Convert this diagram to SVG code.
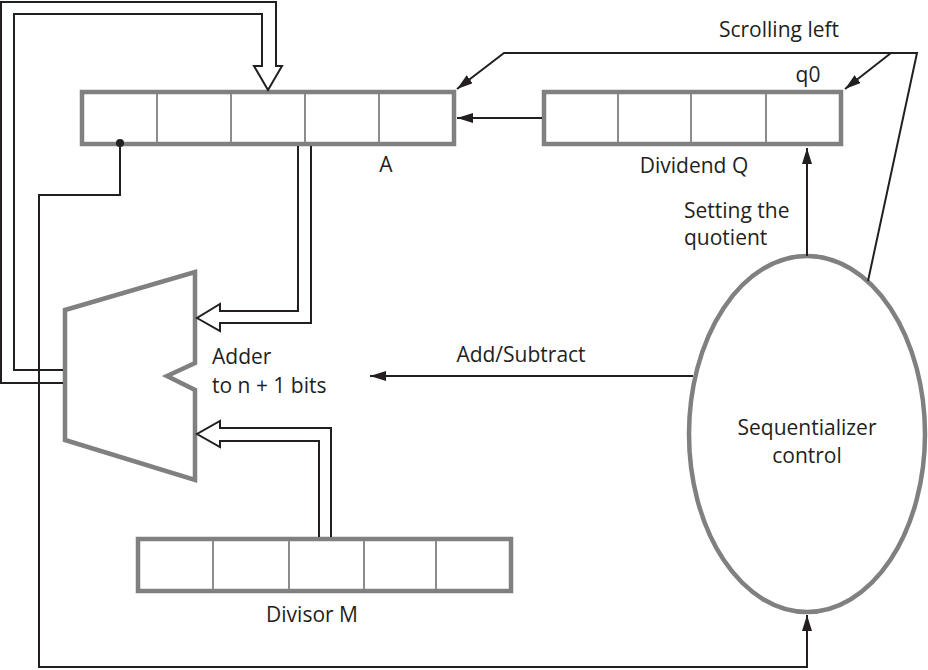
<svg xmlns="http://www.w3.org/2000/svg" width="928" height="670" viewBox="0 0 928 670">
<defs>
<style>
.reg{fill:#fff;stroke:#808080;stroke-width:4.5}
.div{stroke:#8c8c8c;stroke-width:2}
.shape{fill:#fff;stroke:#808080;stroke-width:4.5}
.ln{fill:none;stroke:#231f20;stroke-width:2}
.bus{fill:none;stroke:#231f20;stroke-width:2;stroke-linejoin:miter}
.t{font-family:"Open Sans","Liberation Sans",sans-serif;font-size:21px;fill:#231f20}
</style>
<marker id="ah" viewBox="0 0 16 10" refX="16" refY="5" markerWidth="16" markerHeight="10" markerUnits="userSpaceOnUse" orient="auto">
<path d="M0,0 L16,5 L0,10 Z" fill="#231f20"/>
</marker>
</defs>
<rect width="928" height="670" fill="#fff"/>
<g id="register-A">
<rect class="reg" x="82" y="92" width="372" height="52"/>
<path class="div" d="M157,94 V142 M231,94 V142 M305,94 V142 M379,94 V142"/>
<text class="t" x="386" y="172" text-anchor="middle">A</text>
</g>
<g id="dividend-Q">
<rect class="reg" x="544" y="92" width="297" height="52"/>
<path class="div" d="M618,94 V142 M691,94 V142 M766,94 V142"/>
<text class="t" x="694" y="173" text-anchor="middle">Dividend Q</text>
<text class="t" x="808" y="82" text-anchor="middle">q0</text>
</g>
<g id="divisor-M">
<rect class="reg" x="138" y="539" width="373" height="52"/>
<path class="div" d="M213,541 V589 M289,541 V589 M364,541 V589 M436,541 V589"/>
<text class="t" x="312" y="622" text-anchor="middle">Divisor M</text>
</g>
<g id="adder">
<path class="shape" d="M65,310 L195,272 V363 L167,376 L195,390 V480 L65,440 Z"/>
<text class="t" x="212" y="364">Adder</text>
<text class="t" x="212" y="393">to n + 1 bits</text>
</g>
<g id="sequentializer">
<ellipse class="shape" cx="807" cy="434" rx="118" ry="178"/>
<text class="t" x="807" y="435" text-anchor="middle">Sequentializer</text>
<text class="t" x="807" y="463" text-anchor="middle">control</text>
</g>
<g id="connectors">
<path class="bus" d="M63,383 H1 V2 H276 V66 H282 L268,90 L254,66 H262 V14 H14 V370 H63"/>
<path class="bus" d="M311,146 V323 H220 V331 L197,318 L220,304 V311 H298 V146"/>
<path class="bus" d="M331,537 V428 H220 V421 L197,434 L220,447 V441 H319 V537"/>
<path class="ln" d="M120,143 V195 H39 V667 H807 V615" marker-end="url(#ah)"/>
<circle cx="120" cy="143" r="4" fill="#231f20"/>
<path class="ln" d="M542,118 H457" marker-end="url(#ah)"/>
<path class="ln" d="M868,281 L917,53 H504 L457,89" marker-end="url(#ah)"/>
<path class="ln" d="M891,53 L845,89" marker-end="url(#ah)"/>
<path class="ln" d="M807,256 V148" marker-end="url(#ah)"/>
<path class="ln" d="M693,376 H370" marker-end="url(#ah)"/>
</g>
<g id="labels">
<text class="t" x="779" y="37" text-anchor="middle">Scrolling left</text>
<text class="t" x="684" y="218">Setting the</text>
<text class="t" x="684" y="245">quotient</text>
<text class="t" x="521" y="362" text-anchor="middle">Add/Subtract</text>
</g>
</svg>
